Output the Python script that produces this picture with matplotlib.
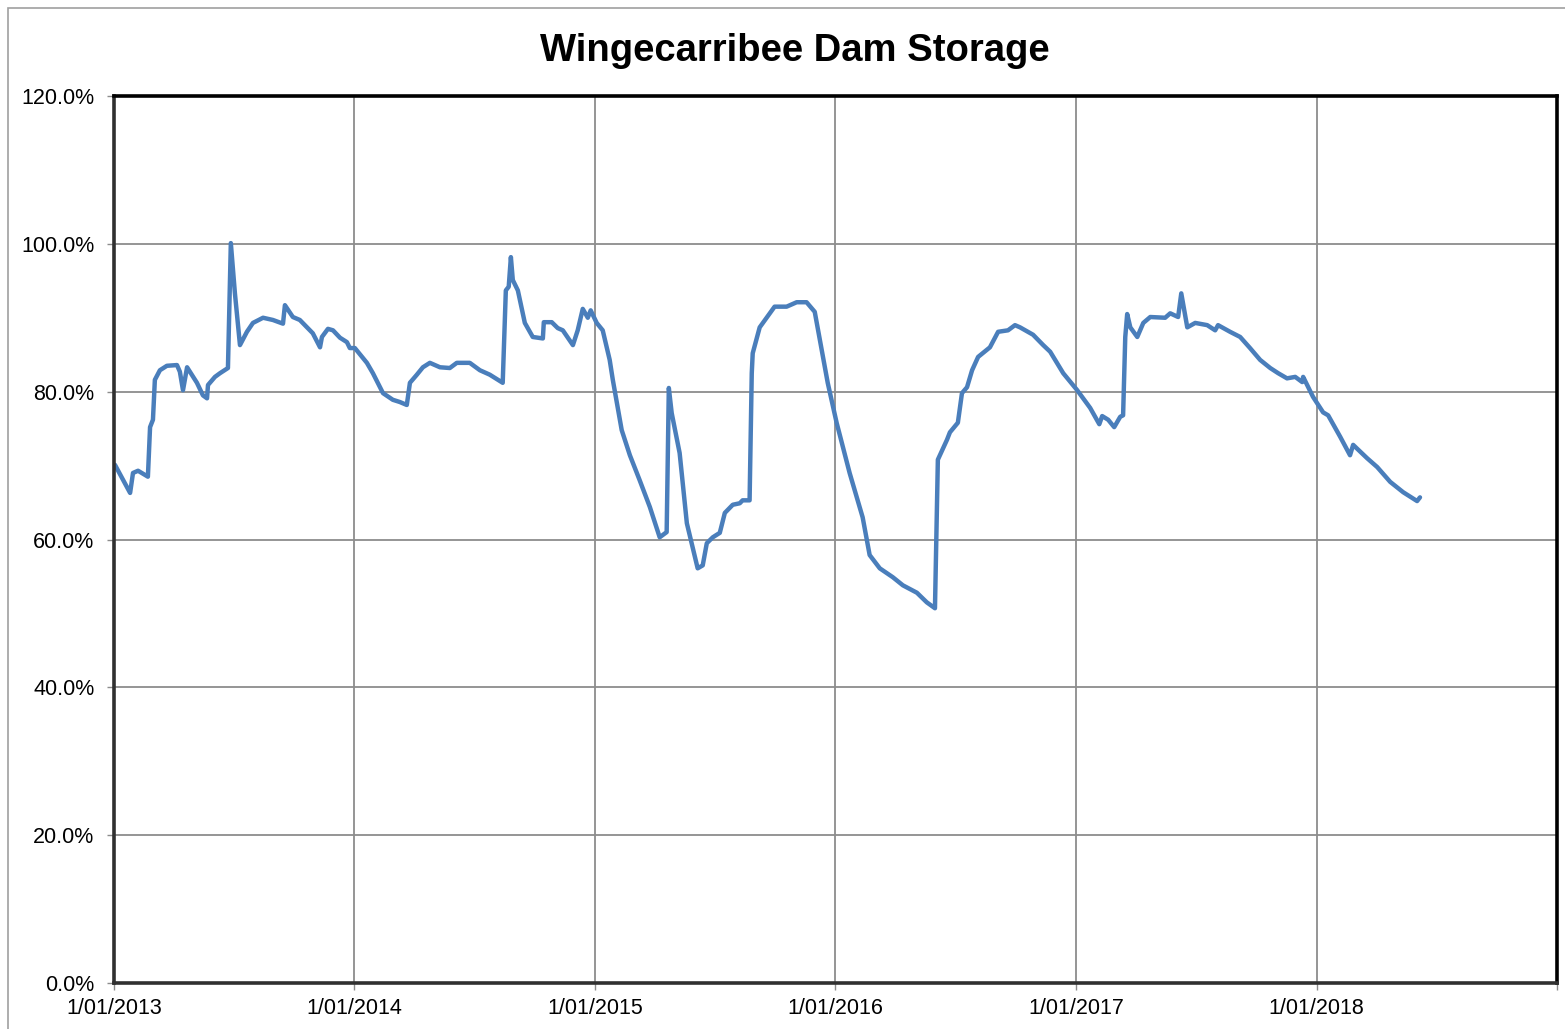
import numpy as np
import pandas as pd
import matplotlib
matplotlib.use("Agg")
from matplotlib import pyplot as plt
import matplotlib.dates as mdates
from matplotlib.ticker import FuncFormatter
from matplotlib.patches import Rectangle

plt.rcParams['font.family'] = ['Liberation Sans', 'DejaVu Sans']

# time, as decimal years
years = [
    2013.004, 2013.067, 2013.079, 2013.100, 2013.141, 2013.150, 2013.162, 2013.170,
    2013.191, 2013.220, 2013.262, 2013.274, 2013.287, 2013.304, 2013.345, 2013.370,
    2013.387, 2013.391, 2013.420, 2013.441, 2013.474, 2013.486, 2013.503, 2013.524,
    2013.553, 2013.578, 2013.620, 2013.661, 2013.703, 2013.711, 2013.744, 2013.773,
    2013.827, 2013.857, 2013.865, 2013.890, 2013.911, 2013.940, 2013.969, 2013.981,
    2014.002, 2014.052, 2014.077, 2014.119, 2014.160, 2014.189, 2014.218, 2014.231,
    2014.260, 2014.285, 2014.314, 2014.356, 2014.397, 2014.426, 2014.480, 2014.522,
    2014.563, 2014.617, 2014.630, 2014.642, 2014.651, 2014.659, 2014.680, 2014.709,
    2014.742, 2014.784, 2014.788, 2014.821, 2014.846, 2014.867, 2014.909, 2014.929,
    2014.950, 2014.971, 2014.983, 2015.008, 2015.033, 2015.062, 2015.075, 2015.112,
    2015.146, 2015.187, 2015.229, 2015.270, 2015.299, 2015.308, 2015.320, 2015.353,
    2015.383, 2015.428, 2015.449, 2015.466, 2015.491, 2015.520, 2015.541, 2015.574,
    2015.603, 2015.615, 2015.644, 2015.653, 2015.657, 2015.686, 2015.728, 2015.748,
    2015.798, 2015.840, 2015.881, 2015.915, 2015.969, 2016.006, 2016.060, 2016.114,
    2016.143, 2016.185, 2016.239, 2016.281, 2016.339, 2016.380, 2016.414, 2016.426,
    2016.464, 2016.476, 2016.509, 2016.526, 2016.547, 2016.568, 2016.593, 2016.642,
    2016.676, 2016.717, 2016.746, 2016.767, 2016.821, 2016.863, 2016.892, 2016.946,
    2017.004, 2017.058, 2017.096, 2017.108, 2017.133, 2017.158, 2017.183, 2017.195,
    2017.204, 2017.212, 2017.225, 2017.254, 2017.279, 2017.308, 2017.370, 2017.391,
    2017.424, 2017.437, 2017.462, 2017.495, 2017.545, 2017.578, 2017.590, 2017.640,
    2017.682, 2017.723, 2017.765, 2017.807, 2017.840, 2017.877, 2017.911, 2017.940,
    2017.944, 2017.985, 2018.027, 2018.048, 2018.098, 2018.139, 2018.152, 2018.210,
    2018.252, 2018.306, 2018.360, 2018.418, 2018.430,
]

# storage, percent full
storage = [
    70.1, 66.3, 69.0, 69.3, 68.5, 75.2, 76.2, 81.6,
    82.9, 83.5, 83.6, 82.7, 80.2, 83.3, 81.2, 79.5,
    79.1, 80.9, 82.0, 82.5, 83.2, 100.1, 93.3, 86.3,
    88.1, 89.3, 90.0, 89.7, 89.2, 91.7, 90.1, 89.7,
    87.9, 86.0, 87.4, 88.5, 88.3, 87.3, 86.7, 85.9,
    85.9, 83.9, 82.5, 79.8, 78.9, 78.6, 78.2, 81.2,
    82.3, 83.3, 83.9, 83.3, 83.2, 83.9, 83.9, 82.9,
    82.3, 81.2, 93.7, 94.2, 98.2, 95.1, 93.7, 89.3,
    87.4, 87.2, 89.4, 89.4, 88.6, 88.3, 86.3, 88.3,
    91.2, 90.0, 91.0, 89.3, 88.3, 84.3, 81.6, 74.8,
    71.4, 68.0, 64.4, 60.3, 61.0, 80.5, 77.1, 71.7,
    62.2, 56.1, 56.5, 59.5, 60.3, 60.9, 63.6, 64.7,
    64.9, 65.3, 65.3, 82.5, 85.2, 88.7, 90.6, 91.5,
    91.5, 92.1, 92.1, 90.8, 81.2, 75.8, 69.0, 63.0,
    57.9, 56.1, 54.9, 53.8, 52.8, 51.5, 50.7, 70.8,
    73.5, 74.5, 75.8, 79.8, 80.6, 82.9, 84.7, 86.0,
    88.1, 88.3, 89.0, 88.7, 87.7, 86.3, 85.4, 82.5,
    80.2, 77.8, 75.6, 76.7, 76.2, 75.2, 76.6, 76.8,
    87.4, 90.5, 88.7, 87.4, 89.3, 90.1, 90.0, 90.6,
    90.1, 93.3, 88.7, 89.3, 89.0, 88.3, 89.0, 88.1,
    87.4, 85.9, 84.3, 83.2, 82.5, 81.8, 82.0, 81.3,
    82.0, 79.3, 77.2, 76.8, 73.9, 71.4, 72.8, 71.0,
    69.8, 67.8, 66.4, 65.2, 65.7,
]

tick_years = [2013, 2014, 2015, 2016, 2017, 2018, 2019]
y_ticks = [0, 20, 40, 60, 80, 100, 120]


def to_date(y):
    yr = int(np.floor(y))
    start = pd.Timestamp(year=yr, month=1, day=1)
    end = pd.Timestamp(year=yr + 1, month=1, day=1)
    return start + (end - start) * (y - yr)


dates = [to_date(y) for y in years]
values = np.array(storage) / 100.0

fig = plt.figure(figsize=(15.65, 10.29), dpi=100)
ax = fig.add_axes([114 / 1565, 46 / 1029, 1443 / 1565, 887 / 1029])

# outer chart border
fig.patches.append(Rectangle((8 / 1565, -0.05), 1.2, 1.05 - 8 / 1029,
                             transform=fig.transFigure, fill=False,
                             edgecolor='#a0a0a0', linewidth=1.2))

ax.plot(dates, values, color='#4a7ebb', linewidth=3.2, solid_joinstyle='round',
        solid_capstyle='round')

ax.set_xlim(pd.Timestamp('2013-01-01'), pd.Timestamp('2019-01-01'))
ax.set_ylim(0, 1.2)
ax.set_xticks([pd.Timestamp(year=y, month=1, day=1) for y in tick_years])
ax.xaxis.set_major_formatter(FuncFormatter(
    lambda v, p: '' if mdates.num2date(v).year == 2019 else f"1/01/{mdates.num2date(v).year}"))
ax.set_yticks([v / 100 for v in y_ticks])
ax.yaxis.set_major_formatter(FuncFormatter(lambda v, p: f"{v * 100:.1f}%"))

ax.grid(True, color='#8c8c8c', linewidth=1.3)
ax.set_axisbelow(True)
ax.tick_params(axis='both', direction='out', length=5, width=1, color='#8c8c8c',
               labelsize=15.5, labelcolor='black')
ax.tick_params(axis='x', pad=6)
ax.tick_params(axis='y', pad=9)

for side in ['top', 'right']:
    ax.spines[side].set_linewidth(2.6)
    ax.spines[side].set_color('black')
ax.spines['left'].set_linewidth(2.6)
ax.spines['left'].set_color('#303030')
ax.spines['bottom'].set_linewidth(2.6)
ax.spines['bottom'].set_color('#303030')

fig.text(795 / 1565, 1 - 51 / 1029, 'Wingecarribee Dam Storage', ha='center', va='center',
         fontsize=27.5, fontweight='bold')

fig.savefig('out.png', dpi=100)
